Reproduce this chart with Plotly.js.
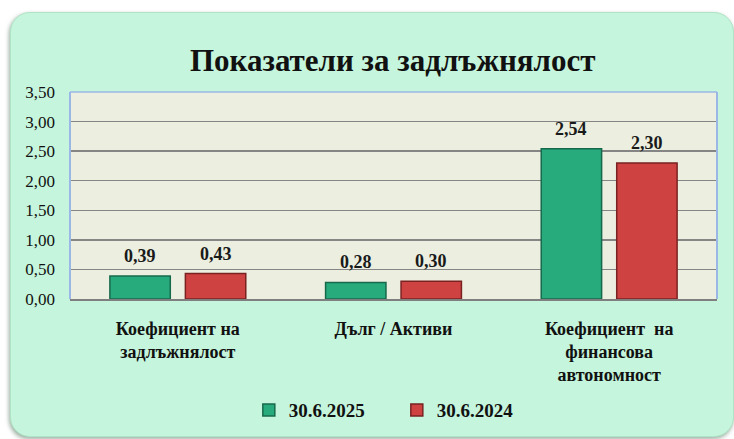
<!DOCTYPE html>
<html>
<head>
<meta charset="utf-8">
<script src="https://cdn.plot.ly/plotly-3.0.1.min.js"></script>
<style>
  html, body { margin: 0; padding: 0; background: #ffffff; width: 734px; height: 439px; overflow: hidden; }
  #card { position: absolute; left: 10px; top: 12px; width: 722px; height: 423px; border-radius: 20px;
          background: #c5f5dc; box-shadow: -1px 2px 4px rgba(110,140,120,0.7); border: 1px solid #b0e4c6; }
  #chart { position: absolute; left: 0; top: 0; width: 734px; height: 439px; }
</style>
</head>
<body>
<div id="card"></div>
<div id="chart"></div>
<script>
const categories = ["Коефициент на<br>задлъжнялост", "Дълг / Активи", "Коефициент  на<br>финансова<br>автономност"];
const series2025 = [0.39, 0.28, 2.54];
const series2024 = [0.43, 0.30, 2.30];
const seriesNames = ["30.6.2025", "30.6.2024"];
const yTicks = [0, 0.5, 1, 1.5, 2, 2.5, 3, 3.5];

const serif = "'Liberation Serif', 'Times New Roman', serif";
const BARGAP = 0.3;

function fmt(v) { return v.toFixed(2).replace('.', ','); }

const traces = [
  {
    type: 'bar', name: seriesNames[0], x: categories, y: series2025,
    marker: { color: '#27ab7c', line: { color: '#17694c', width: 1.5 } }
  },
  {
    type: 'bar', name: seriesNames[1], x: categories, y: series2024,
    marker: { color: '#cf4242', line: { color: '#7a2222', width: 1.5 } }
  }
];

// value labels above the bars, positioned via data coordinates
const slot = (1 - BARGAP) / 2;
const annotations = [];
[series2025, series2024].forEach((vals, k) => {
  vals.forEach((v, i) => {
    annotations.push({
      x: i + (k === 0 ? -slot / 2 : slot / 2), y: v, xref: 'x', yref: 'y',
      text: '<b>' + fmt(v) + '</b>', showarrow: false,
      yanchor: 'bottom', yshift: 8,
      font: { family: serif, size: 18, color: '#1a1a1a' }
    });
  });
});

const layout = {
  width: 734, height: 439,
  margin: { l: 70, r: 17, t: 92, b: 140 },
  paper_bgcolor: 'rgba(0,0,0,0)',
  plot_bgcolor: '#ecefe0',
  separators: ', ',
  barmode: 'group',
  bargap: BARGAP,
  bargroupgap: 0.2,
  showlegend: true,
  title: {
    text: '<b>Показатели за задлъжнялост</b>',
    font: { family: serif, size: 31, color: '#111' },
    x: 0.535, xanchor: 'center', y: 0.863, yanchor: 'middle', yref: 'container'
  },
  xaxis: {
    showgrid: false, zeroline: false,
    showline: true, linecolor: '#7f7f7f', linewidth: 2,
    ticks: '', ticklabelstandoff: 12,
    tickfont: { family: serif, size: 18, color: '#111', weight: 'bold' }
  },
  yaxis: {
    range: [0, 3.5], tickvals: yTicks, tickformat: '.2f',
    showgrid: true, gridcolor: '#858585', gridwidth: 1.5,
    zeroline: false, showline: false,
    ticks: '', ticklabelstandoff: 14,
    tickfont: { family: serif, size: 17, color: '#111' }
  },
  legend: {
    orientation: 'h', xref: 'container', yref: 'container',
    x: 0.339, xanchor: 'left', y: 0.066, yanchor: 'middle',
    font: { family: serif, size: 19, color: '#111', weight: 'bold' },
    entrywidth: 103, entrywidthmode: 'pixels',
    itemwidth: 30, tracegroupgap: 0, bgcolor: 'rgba(0,0,0,0)'
  },
  annotations: annotations,
  shapes: [
    { type: 'line', xref: 'paper', yref: 'paper', x0: 0, x1: 0, y0: 0, y1: 1, line: { color: '#9bb7e6', width: 2 } },
    { type: 'line', xref: 'paper', yref: 'paper', x0: 1, x1: 1, y0: 0, y1: 1, line: { color: '#9bb7e6', width: 2 } },
    { type: 'line', xref: 'paper', yref: 'paper', x0: 0, x1: 1, y0: 1, y1: 1, line: { color: '#9bb7e6', width: 1.5 } }
  ]
};

Plotly.newPlot('chart', traces, layout, { displayModeBar: false, staticPlot: true });
</script>
</body>
</html>
